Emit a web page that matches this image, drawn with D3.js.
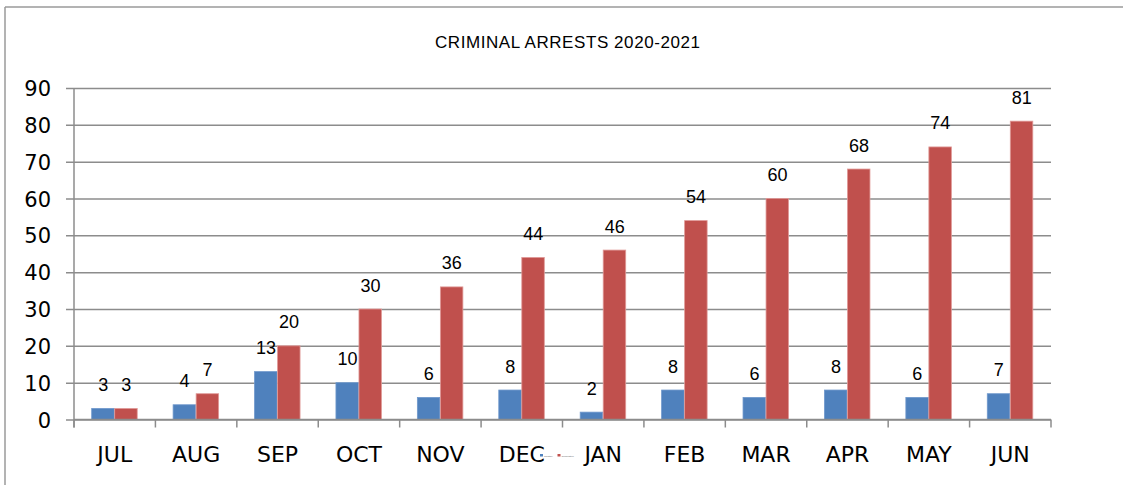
<!DOCTYPE html>
<html>
<head>
<meta charset="utf-8">
<script src="https://cdn.jsdelivr.net/npm/d3@7"></script>
<style>
  html, body { margin: 0; padding: 0; background: #fff; }
  svg { display: block; }
</style>
</head>
<body>
<svg id="chart" width="1123" height="485"></svg>
<script>
const months = ["JUL","AUG","SEP","OCT","NOV","DEC","JAN","FEB","MAR","APR","MAY","JUN"];
const monthly = [3,4,13,10,6,8,2,8,6,8,6,7];
const cumulative = [3,7,20,30,36,44,46,54,60,68,74,81];
const yTicks = [0,10,20,30,40,50,60,70,80,90];
const seriesNames = ["Monthly","Cumulative"];
const title = "CRIMINAL ARRESTS 2020-2021";

const svg = d3.select("#chart");
const W = 1123, H = 485;
const pLeft = 74, pRight = 1051, pTop = 88, pBottom = 419.5;

// outer frame (left and top edges visible)
svg.append("line").attr("x1",5).attr("x2",5).attr("y1",7).attr("y2",H).attr("stroke","#9a9a9a").attr("stroke-width",1.5);
svg.append("line").attr("x1",5).attr("x2",W).attr("y1",7).attr("y2",7).attr("stroke","#9a9a9a").attr("stroke-width",1.5);

svg.append("text").attr("x",567.5).attr("y",48).attr("text-anchor","middle")
  .attr("font-family","Liberation Sans, Arial, sans-serif").attr("font-size",17)
  .attr("textLength",265).attr("lengthAdjust","spacing")
  .attr("fill","#000").text(title);

const x = d3.scaleBand().domain(months).range([pLeft,pRight]).paddingInner(0).paddingOuter(0);
const y = d3.scaleLinear().domain([0,90]).range([pBottom,pTop]);
const sub = d3.scaleBand().domain(seriesNames).range([17.7, x.bandwidth()-17.7]).padding(0);

// gridlines with y-axis
const yAxis = d3.axisLeft(y).tickValues(yTicks).tickSize(-(pRight-pLeft)).tickSizeOuter(0).tickPadding(23).tickFormat(d3.format("d"));
const gy = svg.append("g").attr("transform",`translate(${pLeft},0)`).call(yAxis);
gy.select(".domain").remove();
gy.selectAll(".tick line").attr("x1",-8).attr("stroke","#8c8c8c").attr("stroke-width",1.5);
gy.selectAll(".tick text").attr("font-family","DejaVu Sans, sans-serif").attr("font-size",21).attr("fill","#000").attr("dy","0.36em");

// y axis line
svg.append("line").attr("x1",pLeft).attr("x2",pLeft).attr("y1",pTop).attr("y2",pBottom+8).attr("stroke","#8c8c8c").attr("stroke-width",1.5);

// bars
const data = months.map((m,i)=>({m, vals:[{s:"Monthly",v:monthly[i]},{s:"Cumulative",v:cumulative[i]}]}));
const colors = {"Monthly":"#4F81BD","Cumulative":"#C0504D"};
const strokes = {"Monthly":"#6f98cc","Cumulative":"#e09a98"};
const groups = svg.append("g").selectAll("g").data(data).join("g").attr("transform",d=>`translate(${x(d.m)},0)`);
groups.selectAll("rect").data(d=>d.vals).join("rect")
  .attr("x",d=>sub(d.s)).attr("width",sub.bandwidth()-0.5)
  .attr("y",d=>y(d.v)).attr("height",d=>pBottom-y(d.v))
  .attr("fill",d=>colors[d.s]).attr("stroke",d=>strokes[d.s]).attr("stroke-width",0.8);
groups.selectAll("text").data(d=>d.vals).join("text")
  .attr("x",d=>sub(d.s)+sub.bandwidth()/2).attr("y",d=>y(d.v)-17.5)
  .attr("text-anchor","middle").attr("font-family","Liberation Sans, Arial, sans-serif").attr("font-size",18).attr("fill","#000")
  .text(d=>d.v);

// x axis
const xAxis = d3.axisBottom(x).tickSize(0).tickPadding(27);
const gx = svg.append("g").attr("transform",`translate(0,${pBottom})`).call(xAxis);
gx.select(".domain").attr("stroke","#8c8c8c").attr("stroke-width",1.5).attr("d",`M${pLeft},0H${pRight}`);
gx.selectAll(".tick text").attr("font-family","DejaVu Sans, sans-serif").attr("font-size",22).attr("fill","#000").attr("dy","0.71em");
// tick marks at band boundaries
const bounds = months.map(m=>x(m)).concat([pRight]);
svg.append("g").selectAll("line").data(bounds).join("line")
  .attr("x1",d=>d).attr("x2",d=>d).attr("y1",pBottom).attr("y2",pBottom+8)
  .attr("stroke","#8c8c8c").attr("stroke-width",1.5);

// tiny legend
const leg = svg.append("g").attr("transform","translate(540,454)");
const legItems = [{s:"Monthly",x:0},{s:"Cumulative",x:17.5}];
leg.selectAll("rect").data(legItems).join("rect").attr("x",d=>d.x).attr("y",0).attr("width",3).attr("height",2.5).attr("fill",d=>colors[d.s]);
leg.selectAll("text").data(legItems).join("text").attr("x",d=>d.x+4).attr("y",2.5)
  .attr("font-family","Liberation Sans, Arial, sans-serif").attr("font-size",2.5).attr("fill","#666").text(d=>d.s);
</script>
</body>
</html>
